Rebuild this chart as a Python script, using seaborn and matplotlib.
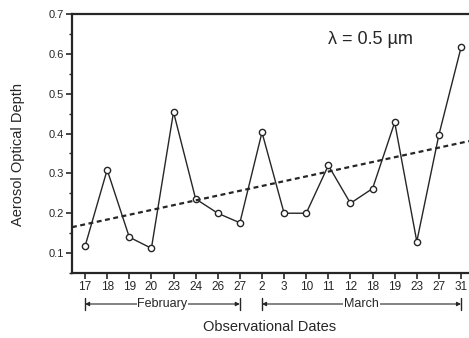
import matplotlib
matplotlib.use("Agg")
import matplotlib.pyplot as plt
import matplotlib.transforms as mtransforms
import seaborn as sns
import pandas as pd
import numpy as np

dates = ["17", "18", "19", "20", "23", "24", "26", "27",
         "2", "3", "10", "11", "12", "18", "19", "23", "27", "31"]
aod = [0.117, 0.309, 0.140, 0.112, 0.454, 0.236, 0.200, 0.176,
       0.403, 0.200, 0.200, 0.320, 0.225, 0.262, 0.428, 0.129, 0.397, 0.616]
months = ["February", "March"]
month_spans = [(0, 7), (8, 17)]
trend_x = [-0.59, 17.36]
trend_y = [0.165, 0.381]

sns.set_style("ticks")
plt.rcParams['font.family'] = ['Liberation Sans', 'DejaVu Sans']

fig = plt.figure(figsize=(4.69, 3.38), dpi=100)
ax = fig.add_axes([72/469, 1 - 273/338, 1 - 72/469, (273 - 14)/338])

df = pd.DataFrame({"idx": np.arange(len(dates)), "aod": aod})
ink = "#262626"
sns.lineplot(data=df, x="idx", y="aod", ax=ax, color=ink, lw=1.0,
             marker="o", markersize=4.5, markerfacecolor="white",
             markeredgecolor=ink, markeredgewidth=1.0)
sns.lineplot(x=trend_x, y=trend_y, ax=ax, color=ink, lw=1.6,
             linestyle=(0, (2.2, 1.6)))

ax.set_xlim(trend_x[0], trend_x[1])
ax.set_ylim(0.05, 0.7)
ax.set_xticks(np.arange(len(dates)))
ax.set_xticklabels(dates, fontsize=8.5, color=ink)
ax.set_yticks([0.1, 0.2, 0.3, 0.4, 0.5, 0.6, 0.7])
ax.set_yticklabels(["0.1", "0.2", "0.3", "0.4", "0.5", "0.6", "0.7"], fontsize=8, color=ink)
ax.set_yticks(np.arange(0.05, 0.7, 0.1), minor=True)
ax.tick_params(axis="both", which="major", length=4, width=1.2, color=ink, pad=2)
ax.tick_params(axis="y", which="minor", length=2.5, width=1.0, color=ink)
ax.spines["right"].set_visible(False)
for s in ["left", "bottom", "top"]:
    ax.spines[s].set_color(ink)
    ax.spines[s].set_linewidth(1.6)

ax.set_xlabel("Observational Dates", fontsize=10.5, color=ink)
ax.set_ylabel("Aerosol Optical Depth", fontsize=10.5, color=ink)
ax.xaxis.set_label_coords((270 - 72) / 397, -(327 - 273) / 259)
ax.yaxis.set_label_coords(-(72 - 18) / 397, (273 - 154) / 259)
ax.xaxis.label.set_va("center")
ax.yaxis.label.set_va("center")

ax.text((370 - 72) / 397, (273 - 39) / 259, "λ = 0.5 µm", transform=ax.transAxes,
        fontsize=13, color=ink, ha="center", va="center")

trans = mtransforms.blended_transform_factory(ax.transData, ax.transAxes)
ya = -(304 - 273) / 259
bar_h = 6 / 259
for name, (a, b) in zip(months, month_spans):
    ax.annotate("", xy=(b, ya), xytext=(a, ya), xycoords=trans, textcoords=trans,
                arrowprops=dict(arrowstyle="<|-|>", color=ink, lw=0.8,
                                mutation_scale=6, shrinkA=0, shrinkB=0),
                annotation_clip=False)
    for xv in (a, b):
        ax.plot([xv, xv], [ya - bar_h, ya + bar_h], transform=trans,
                color=ink, lw=1.0, clip_on=False)
    ax.text((a + b) / 2, ya, name, transform=trans, fontsize=9, color=ink,
            ha="center", va="center",
            bbox=dict(facecolor="white", edgecolor="none", pad=0.5))

fig.savefig("out.png", dpi=100)
